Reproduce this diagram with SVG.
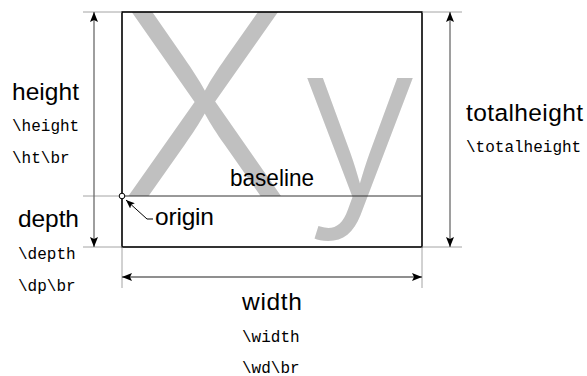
<svg xmlns="http://www.w3.org/2000/svg" width="587" height="376" viewBox="0 0 587 376">
<style>
.sans{font-family:"Liberation Sans",Arial,sans-serif;font-size:24.5px;fill:#000}
.mono{font-family:"Liberation Mono","Courier New",monospace;font-size:16px;fill:#000}
.glyph{font-family:Inter,"Liberation Sans",Arial,sans-serif;font-weight:300;fill:#c0c0c0}
.ext{stroke:#9a9a9a;stroke-width:0.9;fill:none}
.dim{stroke:#6a6a6a;stroke-width:1.3;fill:none}
</style>
<defs>
<marker id="ah" viewBox="0 0 10 8" refX="10" refY="4" markerWidth="10" markerHeight="8" markerUnits="userSpaceOnUse" orient="auto-start-reverse">
<path d="M0,0 L10,4 L0,8 L2,4 z" fill="#000"/>
</marker>
<marker id="ahs" viewBox="0 0 10 8" refX="10" refY="4" markerWidth="9" markerHeight="7" markerUnits="userSpaceOnUse" orient="auto">
<path d="M0,0 L10,4 L0,8 L2,4 z" fill="#000"/>
</marker>
</defs>
<g id="glyphs">
<text class="glyph" x="121" y="196" font-size="253">X</text>
<text class="glyph" x="300" y="196" font-size="216">y</text>
</g>
<g id="box">
<rect x="122" y="12" width="300" height="235" fill="none" stroke="#000" stroke-width="1.6"/>
<line x1="122" y1="196" x2="422" y2="196" stroke="#333" stroke-width="1"/>
</g>
<g id="connectors">
<line class="ext" x1="83" y1="12" x2="122" y2="12"/>
<line class="ext" x1="422" y1="12" x2="462" y2="12"/>
<line class="ext" x1="83" y1="247" x2="122" y2="247"/>
<line class="ext" x1="422" y1="247" x2="462" y2="247"/>
<line class="ext" x1="83" y1="196" x2="122" y2="196"/>
<line class="ext" x1="122" y1="247" x2="122" y2="288"/>
<line class="ext" x1="422" y1="247" x2="422" y2="288"/>
<line class="dim" x1="94" y1="196" x2="94" y2="12" marker-end="url(#ah)"/>
<line class="dim" x1="94" y1="196" x2="94" y2="247" marker-end="url(#ah)"/>
<line class="dim" x1="450" y1="12" x2="450" y2="247" marker-start="url(#ah)" marker-end="url(#ah)"/>
<line class="dim" x1="122" y1="277" x2="422" y2="277" marker-start="url(#ah)" marker-end="url(#ah)"/>
<path d="M153,219 L147,219 L126,200" fill="none" stroke="#000" stroke-width="1" marker-end="url(#ahs)"/>
</g>
<g id="origin">
<circle cx="122" cy="196" r="2.8" fill="#fff" stroke="#000" stroke-width="1"/>
<text class="sans" x="155" y="225" textLength="59">origin</text>
</g>
<g id="baseline-label">
<text class="sans" x="230" y="186" textLength="84" lengthAdjust="spacingAndGlyphs">baseline</text>
</g>
<g id="height">
<text class="sans" x="12" y="100" textLength="67">height</text>
<text class="mono" x="12" y="131">\height</text>
<text class="mono" x="12" y="163">\ht\br</text>
</g>
<g id="depth">
<text class="sans" x="18" y="227" textLength="61">depth</text>
<text class="mono" x="18" y="259">\depth</text>
<text class="mono" x="18" y="291">\dp\br</text>
</g>
<g id="totalheight">
<text class="sans" x="466" y="121" textLength="117">totalheight</text>
<text class="mono" x="466" y="152">\totalheight</text>
</g>
<g id="width">
<text class="sans" x="242" y="310" textLength="60">width</text>
<text class="mono" x="242" y="342">\width</text>
<text class="mono" x="242" y="373">\wd\br</text>
</g>
</svg>
